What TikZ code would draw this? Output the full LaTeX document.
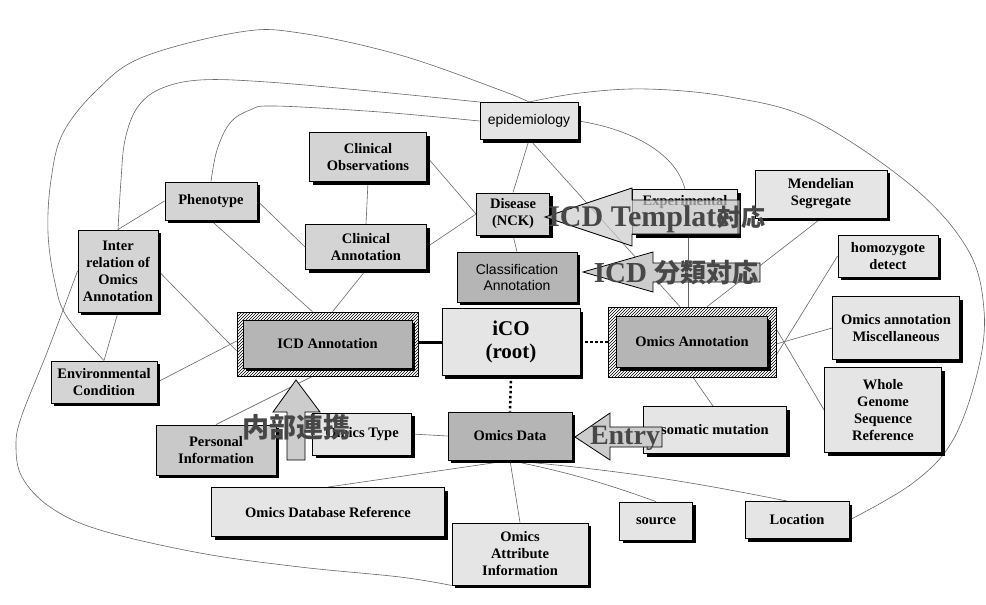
\documentclass[tikz,border=0pt]{standalone}
\usepackage{fontspec}
\setmainfont{Liberation Serif}
\setsansfont{Liberation Sans}
\newfontfamily\cjk{Noto Sans CJK JP}
\usetikzlibrary{shadows,patterns,backgrounds}

\tikzset{
  wh/.style 2 args={minimum width=#1, minimum height=#2},
  box/.style={draw=black, line width=0.9pt, fill=gray!20, align=center, inner sep=1pt,
    font=\fontsize{14.5}{17}\selectfont\bfseries,
    drop shadow={shadow xshift=3pt, shadow yshift=-3pt, opacity=1, fill=black}},
  midbox/.style={box, fill=gray!34},
  darkbox/.style={box, fill=gray!58},
  sansbox/.style={font=\fontsize{14}{16}\selectfont\sffamily},
  hatchbox/.style={draw=black, line width=0.6pt, pattern=north east lines, pattern color=black},
  link/.style={draw=black!60, line width=0.6pt},
  bigarrow/.style={draw=black, line width=0.8pt, fill=gray!40},
  bigtext/.style={text=black!72, inner sep=0pt},
}

\begin{document}
\begin{tikzpicture}[x=1pt, y=-1pt]
\useasboundingbox (0,0) rectangle (986,605);

% upper part
\node[box, sansbox, wh={98}{37}] (epi) at (529,121) {epidemiology};
\node[midbox, wh={117}{49}] (clinobs) at (368,157) {Clinical\\Observations};
\node[midbox, wh={92}{38}] (pheno) at (211,201) {Phenotype};
\node[midbox, wh={121}{45}] (clinann) at (366,247) {Clinical\\Annotation};
\node[midbox, wh={80}{82}] (inter) at (118,271) {Inter\\relation of\\Omics\\Annotation};
\node[midbox, wh={73}{42}] (disease) at (513,214) {Disease\\(NCK)};
\node[darkbox, sansbox, wh={120}{50}] (classann) at (517,277) {Classification\\Annotation};
\node[box, wh={105}{45}] (exper) at (685,212) {Experimental\\\strut};
\node[box, wh={132}{48}] (mendel) at (821,194) {Mendelian\\Segregate};
\node[box, wh={100}{42}] (homo) at (888,256) {homozygote\\detect};
\node[box, wh={127}{63}] (misc) at (896,328) {Omics annotation\\Miscellaneous};
\node[box, wh={117}{85}] (wgs) at (883,410) {Whole\\Genome\\Sequence\\Reference};

% middle row
\node[midbox, wh={106}{42}] (env) at (104,382) {Environmental\\Condition};
\node[hatchbox, wh={181}{64}] (icdann) at (327.5,344) {};
\node[darkbox, wh={169}{48}] (icdanntxt) at (icdann) {ICD Annotation};
\node[box, wh={138}{67}, font=\fontsize{21}{23}\selectfont\bfseries] (ico) at (511,342) {iCO\\(root)};
\node[hatchbox, wh={168}{70}] (omicsann) at (692,342) {};
\node[darkbox, wh={151}{51}] (omicsanntxt) at (omicsann) {Omics Annotation};

% lower part
\node[midbox, fill=gray!42, wh={120}{50}] (personal) at (216,450) {Personal\\Information};
\node[box, wh={99}{42}] (omicstype) at (362,434) {Omics Type};
\node[darkbox, wh={124}{48}] (omicsdata) at (510,436) {Omics Data};
\node[box, wh={143}{47}] (somatic) at (715,430) {somatic mutation};
\node[box, wh={233}{49}] (dbref) at (328,512) {Omics Database Reference};
\node[box, wh={136}{62}] (attr) at (520,554) {Omics\\Attribute\\Information};
\node[box, wh={73}{38}] (source) at (656,521) {source};
\node[box, wh={104}{37}] (location) at (797,520) {Location};

\begin{scope}[on background layer]
% root links
\draw[line width=3pt] (ico.west) -- (ico.west -| icdann.east);
\draw[line width=2.5pt, dash pattern=on 2.5pt off 2.5pt] (ico.east) -- (ico.east -| omicsann.west);
\draw[line width=2.5pt, dash pattern=on 2.5pt off 2.5pt] (ico.south) -- (omicsdata.north);
% ICD side
\draw[link] (disease.north) -- (epi.south);
\draw[link] (disease.south) -- (classann.north);
\draw[link] (disease.west) -- (clinobs.east);
\draw[link] (disease.west) -- (clinann.east);
\draw[link] (clinobs.south) -- (clinann.north);
\draw[link] (pheno.east) -- (clinann.west);
\draw[link] (clinann.south) -- ([xshift=5]icdann.north);
\draw[link] (pheno.south) -- ([xshift=-15]icdann.north);
\draw[link] (pheno.west) -- (inter.north);
\draw[link] (inter.east) -- ([yshift=-7]icdann.west);
\draw[link] (inter.south) -- (env.north);
\draw[link] (env.east) -- ([yshift=3]icdann.west);
\draw[link] ([xshift=-15]icdann.south) -- (personal.north);
% omics side
\draw[link] (omicsdata.west) -- (omicstype.east);
\draw[link] (omicsdata.south) -- (dbref.north);
\draw[link] (omicsdata.south) -- (attr.north);
\draw[link] (omicsdata.south) to[bend left=4] (source.north);
\draw[link] (omicsdata.south) to[bend left=3] ([xshift=-10]location.north);
\draw[link] ([xshift=1]omicsann.south) -- ([xshift=-2]somatic.north);
\draw[link] ([yshift=-2]omicsann.east) -- (misc.west);
\draw[link] ([yshift=-13]omicsann.east) -- (homo.west);
\draw[link] ([yshift=13]omicsann.east) -- (wgs.west);
\draw[link] ([xshift=15]omicsann.north) -- (mendel.south);
\draw[link] ([xshift=-4]omicsann.north) -- ([xshift=3]exper.south);
\draw[link] ([xshift=1]epi.south) -- ([xshift=-12]omicsann.north);
\draw[link] (epi.east) .. controls (625,128) and (675,150) .. (exper.north);
% long curves
\draw[link] plot[smooth, tension=0.6] coordinates {(pheno.north) (217,150) (230,123) (250,110) (275,106) (380,112) (epi.west)};
\draw[link] plot[smooth, tension=0.6] coordinates {(inter.north) (121,180) (125,140) (137,108) (160,89) (200,80) (267,82) (380,92) (epi.north west)};
\draw[link] plot[smooth, tension=0.6] coordinates {(env.north) (67,317) (55,283) (48,233) (51,180) (63,133) (97,90) (143,57) (240,32) (300,33) (400,55) (500,90) (epi.north)};
\draw[link] plot[smooth, tension=0.6] coordinates {(epi.north) (580,93) (647,89) (730,97) (813,120) (913,187) (968,250) (984,310) (978,370) (953,440) (913,483) (location.east)};
\draw[link] plot[smooth, tension=0.6] coordinates {(inter.west) (48,350) (22,415) (16,445) (22,477) (50,507) (100,530) (200,553) (300,567) (400,577) (attr.south west)};
\end{scope}

% block arrows and their labels
\draw[bigarrow, fill opacity=0.7] (545,217) -- (632,188) -- (632,200) -- (740,200) -- (740,234)
  -- (632,234) -- (632,246) -- cycle;
\node[bigtext, font=\fontsize{30}{30}\selectfont\bfseries] (tmpltxt) at (657,219)
  {ICD Template\hspace{-12pt}{\cjk\fontsize{24}{24}\selectfont 対応}};

\draw[bigarrow] (583,272) -- (653,252) -- (653,263) -- (760,263) -- (760,282)
  -- (653,282) -- (653,292) -- cycle;
\node[bigtext, font=\fontsize{29}{29}\selectfont\bfseries] (classtxt) at (676,273)
  {ICD {\cjk\fontsize{26}{26}\selectfont 分類対応}};

\draw[bigarrow] (575,437) -- (610,413) -- (610,427) -- (662,427) -- (662,447)
  -- (610,447) -- (610,460) -- cycle;
\node[bigtext, font=\fontsize{28}{28}\selectfont\bfseries] (entrytxt) at (625,438) {Entry};

\draw[bigarrow] (296,380) -- (320,412) -- (305,412) -- (305,460) -- (287,460)
  -- (287,412) -- (273,412) -- cycle;
\node[bigtext, font=\cjk\fontsize{27}{27}\selectfont\bfseries] (linktxt) at (296,427) {内部連携};
\end{tikzpicture}
\end{document}
